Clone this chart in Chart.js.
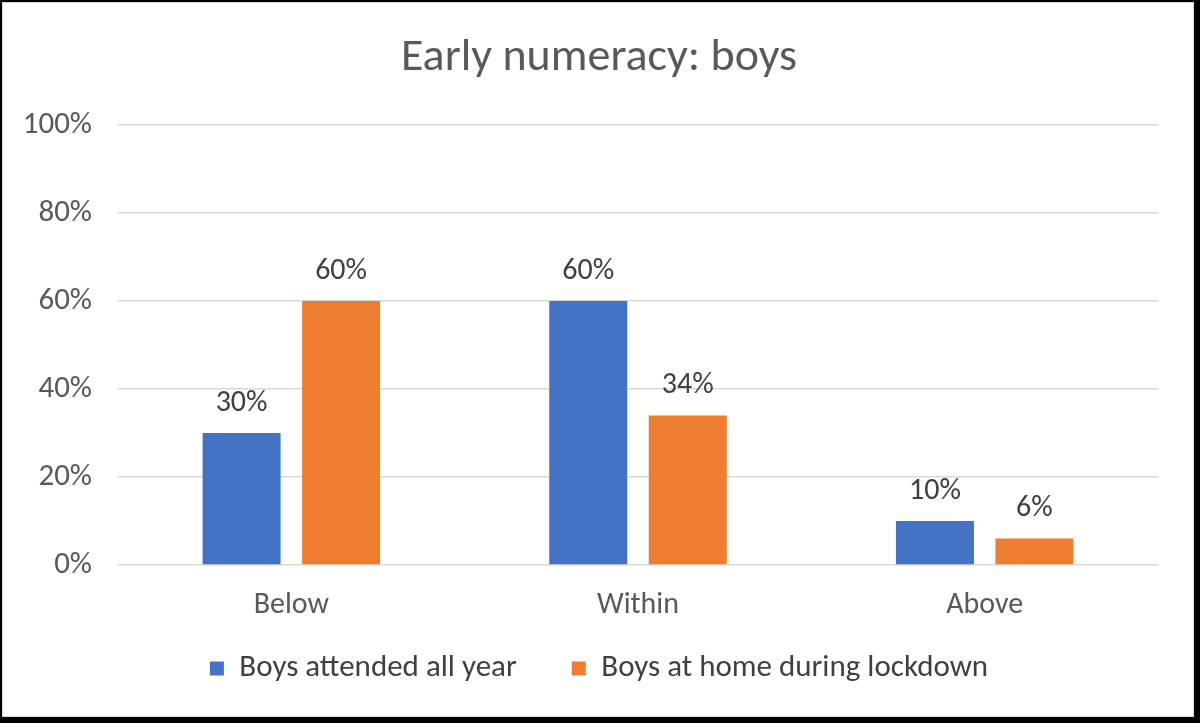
<!DOCTYPE html>
<html>
<head>
<meta charset="utf-8">
<script src="https://cdn.jsdelivr.net/npm/chart.js@4"></script>
<style>
  html, body { margin: 0; padding: 0; background: #000; }
  #wrap { position: absolute; left: 0; top: 0; width: 1200px; height: 723px; }
</style>
</head>
<body>
<div id="wrap"><canvas id="chart" width="1200" height="723"></canvas></div>
<script>
const categories = ["Below", "Within", "Above"];
const attended = [30, 60, 10];
const atHome = [60, 34, 6];
const yTicks = [0, 20, 40, 60, 80, 100];

const FONT = "Carlito, Lato, 'Liberation Sans', sans-serif";

// white card with a dark frame, like the screenshot
const frame = {
  id: "frame",
  beforeDraw(chart) {
    const ctx = chart.ctx;
    ctx.save();
    ctx.fillStyle = "#000";
    ctx.fillRect(0, 0, chart.width, chart.height);
    ctx.fillStyle = "#d9d9d9";
    ctx.fillRect(2, 2, 1192, 715);
    ctx.fillStyle = "#fff";
    ctx.fillRect(3, 3, 1190, 713);
    ctx.restore();
  }
};

// values above each bar
const barLabels = {
  id: "barLabels",
  afterDatasetsDraw(chart) {
    const ctx = chart.ctx;
    ctx.save();
    ctx.font = "30px " + FONT;
    ctx.fillStyle = "#404040";
    ctx.textAlign = "center";
    ctx.textBaseline = "middle";
    chart.data.datasets.forEach((ds, i) => {
      chart.getDatasetMeta(i).data.forEach((bar, j) => {
        ctx.fillText(ds.data[j] + "%", bar.x, bar.y - 30);
      });
    });
    ctx.restore();
  }
};

// title and legend are centred on the whole card, not on the plot
const centreOnCard = {
  id: "centreOnCard",
  afterLayout(chart) {
    for (const box of [chart.legend, chart.titleBlock]) {
      box.left += 20;
      box.right += 20;
    }
  }
};

new Chart(document.getElementById("chart"), {
  type: "bar",
  data: {
    labels: categories,
    datasets: [
      { label: "Boys attended all year", data: attended, backgroundColor: "#4472C4" },
      { label: "Boys at home during lockdown", data: atHome, backgroundColor: "#ED7D31" }
    ]
  },
  options: {
    responsive: false,
    animation: false,
    devicePixelRatio: 1,
    categoryPercentage: 0.574,
    barPercentage: 0.784,
    layout: { padding: { left: 0, right: 42, top: 0, bottom: 29 } },
    plugins: {
      tooltip: { enabled: false },
      title: {
        display: true,
        text: "Early numeracy: boys",
        color: "#595959",
        font: { family: FONT, size: 46, weight: "normal" },
        padding: { top: 31, bottom: 39 }
      },
      legend: {
        position: "bottom",
        labels: {
          color: "#404040",
          font: { family: FONT, size: 31 },
          boxWidth: 14,
          boxHeight: 14,
          padding: 20,
          // widen the gap after the first entry without a tall legend box
          generateLabels(chart) {
            const items = Chart.defaults.plugins.legend.labels.generateLabels(chart);
            items[0].text += "     ";
            return items;
          }
        }
      }
    },
    scales: {
      x: {
        afterFit(scale) { scale.height = 68; },
        grid: { display: false, drawTicks: false },
        border: { display: false },
        ticks: { color: "#595959", font: { family: FONT, size: 30 }, padding: 22 }
      },
      y: {
        min: 0,
        max: 100,
        afterFit(scale) { scale.width = 118; },
        afterBuildTicks(scale) { scale.ticks = yTicks.map(v => ({ value: v })); },
        grid: { color: "#d9d9d9", lineWidth: 1.5, drawTicks: false },
        border: { display: false },
        ticks: {
          color: "#595959",
          font: { family: FONT, size: 31 },
          padding: 26,
          callback: v => v + "%"
        }
      }
    }
  },
  plugins: [frame, barLabels, centreOnCard]
});
</script>
</body>
</html>
